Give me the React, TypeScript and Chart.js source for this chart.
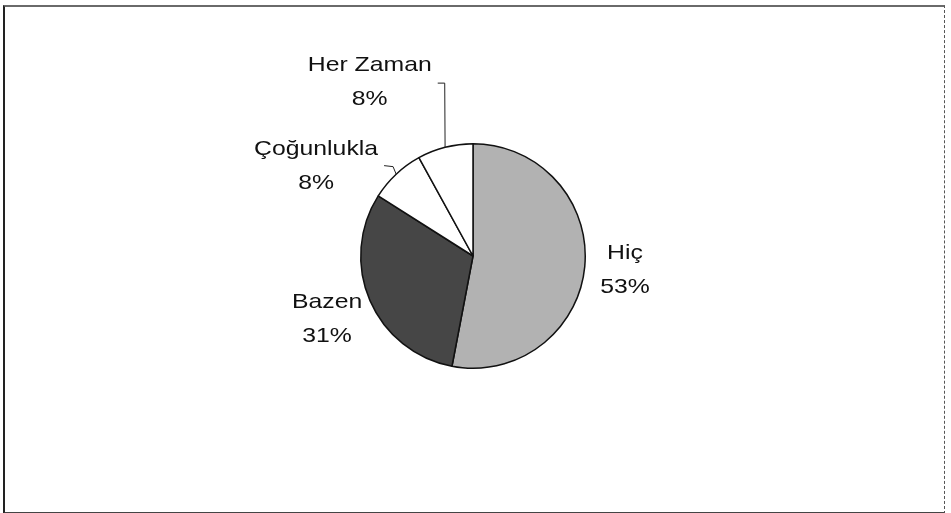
import React, { useEffect, useRef } from "react";
import { Chart, registerables } from "chart.js";

Chart.register(...registerables);

// ---- data ----
const categories = ["Hiç", "Bazen", "Çoğunlukla", "Her Zaman"];
const values = [53, 31, 8, 8];

// ---- styles ----
const sliceColors = ["#b2b2b2", "#464646", "#ffffff", "#ffffff"];
// label centre relative to pie centre, in units of radius
const labelOffsets: [number, number][] = [
  [1.354, 0.115],
  [-1.3, 0.549],
  [-1.398, -0.814],
  [-0.92, -1.558],
];
// leader line points relative to label centre (px); the line then ends on the slice edge
const leaderPaths: ([number, number][] | null)[] = [
  null,
  null,
  [
    [68, 1],
    [77, 2],
  ],
  [
    [68, 2],
    [75, 2],
  ],
];

const labelPlugin = {
  id: "pieLabels",
  afterDraw(chart: any) {
    const ctx: CanvasRenderingContext2D = chart.ctx;
    const meta = chart.getDatasetMeta(0);
    const total = values.reduce((a, b) => a + b, 0);
    ctx.save();
    meta.data.forEach((arc: any, i: number) => {
      const { x, y, outerRadius, startAngle, endAngle } = arc.getProps(
        ["x", "y", "outerRadius", "startAngle", "endAngle"],
        true
      );
      const r = outerRadius;
      const lx = x + labelOffsets[i][0] * r;
      const ly = y + labelOffsets[i][1] * r;
      const pct = Math.round((values[i] / total) * 100) + "%";

      // leader line
      const path = leaderPaths[i];
      if (path) {
        const mid = (startAngle + endAngle) / 2;
        const ex = x + Math.cos(mid) * r;
        const ey = y + Math.sin(mid) * r;
        ctx.beginPath();
        ctx.strokeStyle = "#222";
        ctx.lineWidth = 1;
        path.forEach((p, k) => {
          if (k === 0) ctx.moveTo(lx + p[0], ly + p[1]);
          else ctx.lineTo(lx + p[0], ly + p[1]);
        });
        ctx.lineTo(ex, ey);
        ctx.stroke();
      }

      ctx.fillStyle = "#111";
      ctx.font = '21px "Liberation Sans", Arial, sans-serif';
      ctx.textAlign = "center";
      ctx.textBaseline = "alphabetic";
      const lines = [categories[i], pct];
      const lineH = 34;
      const firstBase = ly - lineH / 2 + 7;
      lines.forEach((t, k) => {
        ctx.save();
        ctx.translate(lx, firstBase + k * lineH);
        ctx.scale(1.18, 1);
        ctx.fillText(t, 0, 0);
        ctx.restore();
      });
    });
    ctx.restore();
  },
};

export default function App() {
  const ref = useRef<HTMLCanvasElement | null>(null);

  useEffect(() => {
    if (!ref.current) return;
    const chart = new Chart(ref.current, {
      type: "pie",
      data: {
        labels: categories,
        datasets: [
          {
            data: values,
            backgroundColor: sliceColors,
            borderColor: "#111",
            borderWidth: 1.5,
            hoverOffset: 0,
          },
        ],
      },
      options: {
        animation: false,
        responsive: false,
        events: [],
        layout: { padding: { left: 360, right: 365, top: 143, bottom: 144 } },
        plugins: {
          legend: { display: false },
          tooltip: { enabled: false },
        },
      },
      plugins: [labelPlugin],
    });
    return () => chart.destroy();
  }, []);

  return (
    <div
      style={{
        position: "fixed",
        left: 0,
        top: 0,
        width: 951,
        height: 513,
        background: "#fff",
        overflow: "hidden",
      }}
    >
      <div
        style={{
          position: "absolute",
          left: 3,
          top: 5,
          width: 939,
          height: 505,
          borderTop: "2px solid #6a6a6a",
          borderLeft: "2px solid #222",
          borderRight: "1px dashed #555",
          borderBottom: "2px solid #444",
        }}
      />
      <canvas
        ref={ref}
        width={951}
        height={513}
        style={{ position: "absolute", left: 0, top: 0, width: 951, height: 513 }}
      />
    </div>
  );
}
